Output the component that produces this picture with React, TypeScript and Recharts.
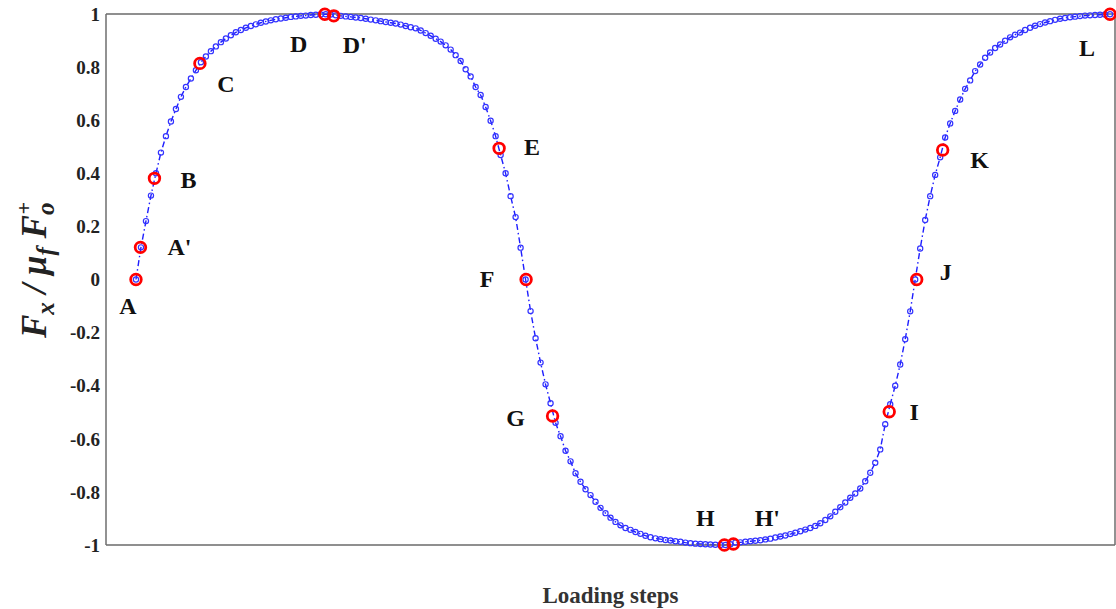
import React from 'react';
import { ComposedChart, Line, Scatter, XAxis, YAxis, CartesianGrid, ReferenceLine, Label } from 'recharts';

// normalised friction force F_x / (mu_f F_o+) at each loading step (step = index)
const FORCE_RATIO: number[] = [
  // A -> D
  0, 0.121, 0.22, 0.316, 0.4, 0.478, 0.54, 0.595, 0.642, 0.688,
  0.725, 0.757, 0.788, 0.818, 0.84, 0.86, 0.878, 0.894, 0.908, 0.92,
  0.931, 0.94, 0.948, 0.955, 0.961, 0.967, 0.972, 0.976, 0.98, 0.983,
  0.986, 0.989, 0.991, 0.993, 0.994, 0.996, 0.997, 0.998, 0.999, 0.998,
  // D' -> H
  0.995, 0.993, 0.991, 0.989, 0.987, 0.985, 0.982, 0.979, 0.976, 0.973,
  0.97, 0.967, 0.964, 0.96, 0.955, 0.95, 0.946, 0.938, 0.928, 0.918,
  0.907, 0.896, 0.882, 0.866, 0.845, 0.823, 0.792, 0.765, 0.725, 0.695,
  0.65, 0.598, 0.54, 0.469, 0.4, 0.314, 0.235, 0.12, 0, -0.119,
  -0.221, -0.313, -0.395, -0.466, -0.54, -0.59, -0.645, -0.685, -0.73, -0.762,
  -0.79, -0.812, -0.837, -0.86, -0.88, -0.897, -0.913, -0.926, -0.936, -0.943,
  -0.951, -0.958, -0.965, -0.971, -0.975, -0.978, -0.981, -0.983, -0.986, -0.988,
  -0.991, -0.993, -0.995, -0.996, -0.997, -0.998, -0.999, -1, -1, -0.997,
  // H' -> L
  -0.991, -0.99, -0.988, -0.986, -0.984, -0.982, -0.979, -0.976, -0.972, -0.968,
  -0.964, -0.959, -0.954, -0.948, -0.942, -0.936, -0.928, -0.918, -0.906, -0.892,
  -0.875, -0.858, -0.84, -0.822, -0.806, -0.787, -0.76, -0.728, -0.69, -0.64,
  -0.545, -0.47, -0.4, -0.32, -0.225, -0.12, 0, 0.117, 0.224, 0.314,
  0.394, 0.46, 0.535, 0.588, 0.635, 0.678, 0.718, 0.75, 0.785, 0.81,
  0.835, 0.855, 0.872, 0.885, 0.899, 0.912, 0.922, 0.93, 0.94, 0.948,
  0.956, 0.962, 0.968, 0.973, 0.978, 0.982, 0.985, 0.988, 0.99, 0.992,
  0.994, 0.995, 0.996, 0.997, 0.998, 0.999,
];

// marked states
const KEY_LABELS = ['A', "A'", 'B', 'C', 'D', "D'", 'E', 'F', 'G', 'H', "H'", 'I', 'J', 'K', 'L'];
const KEY_STEPS = [0, 0.9, 3.7, 12.8, 37.8, 39.6, 72.7, 78.1, 83.4, 117.8, 119.6, 150.8, 156.3, 161.5, 195];
const KEY_VALUES = [0, 0.121, 0.381, 0.814, 0.999, 0.993, 0.494, 0, -0.514, -1, -0.996, -0.498, 0, 0.488, 0.999];

const Y_TICKS = [-1, -0.8, -0.6, -0.4, -0.2, 0, 0.2, 0.4, 0.6, 0.8, 1];

// where each letter sits relative to its red marker (px)
const LABEL_OFFSETS: Record<string, [number, number]> = {
  A: [-8, 26], "A'": [39, 0], B: [34, 2], C: [26, 21], D: [-26, 30], "D'": [21, 29],
  E: [33, -1], F: [-39, -1], G: [-37, 2], H: [-19, -27], "H'": [34, -26],
  I: [25, 0], J: [29, -8], K: [37, 10], L: [-23, 34],
};

const SERIF = '"Liberation Serif", "Times New Roman", serif';
const BLUE = '#1e1eff';
const AXIS_GREY = '#6e6e6e';

const curveData = FORCE_RATIO.map((v, i) => ({ step: i, ratio: v }));
const keyData = KEY_LABELS.map((name, i) => ({ name, step: KEY_STEPS[i], ratio: KEY_VALUES[i] }));

const BlueDot = (props: any) => {
  const { cx, cy } = props;
  if (cx == null || cy == null) return null;
  return <circle cx={cx} cy={cy} r={2.6} fill="none" stroke="#3333ff" strokeWidth={1.2} />;
};

const KeyPoint = (props: any) => {
  const { cx, cy, payload } = props;
  const [dx, dy] = LABEL_OFFSETS[payload.name] || [0, 0];
  return (
    <g>
      <circle cx={cx} cy={cy} r={5.3} fill="none" stroke="#ff0000" strokeWidth={2.8} />
      <text
        x={cx + dx}
        y={cy + dy}
        textAnchor="middle"
        dominantBaseline="central"
        fontFamily={SERIF}
        fontWeight="bold"
        fontSize={24}
        fill="#111"
      >
        {payload.name}
      </text>
    </g>
  );
};

const YTitle = () => (
  <text
    transform="translate(46, 270) rotate(-90)"
    textAnchor="middle"
    fontFamily={SERIF}
    fontWeight="bold"
    fontStyle="italic"
    fontSize={35}
    fill="#222"
  >
    <tspan>F</tspan>
    <tspan dy={8} fontSize={25}>x</tspan>
    <tspan dy={-8}>{' / '}</tspan>
    <tspan>μ</tspan>
    <tspan dy={8} fontSize={25}>f</tspan>
    <tspan dy={-8}>{' F'}</tspan>
    <tspan dy={8} fontSize={25}>o</tspan>
    <tspan dx={-12} dy={-23} fontSize={22}>+</tspan>
  </text>
);

export default function App() {
  return (
    <div style={{ width: 1116, height: 609, background: '#fff' }}>
      <style>{`body{margin:0}`}</style>
      <ComposedChart width={1116} height={609} data={curveData} margin={{ top: 14, right: 1, bottom: 0, left: 0 }}>
        <CartesianGrid vertical={false} stroke="#e3e3e3" strokeWidth={1.2} />
        <XAxis
          type="number"
          dataKey="step"
          domain={[-6, 196]}
          ticks={[]}
          tick={false}
          tickLine={false}
          height={64}
          stroke={AXIS_GREY}
          strokeWidth={1.5}
        >
          <Label
            value="Loading steps"
            position="insideBottom"
            offset={6}
            style={{ fontFamily: SERIF, fontWeight: 'bold', fontSize: 23, fill: '#333' }}
          />
        </XAxis>
        <YAxis
          yAxisId="y"
          domain={[-1, 1]}
          ticks={Y_TICKS}
          interval={0}
          width={106}
          tickLine={false}
          tickSize={4}
          tickMargin={2}
          stroke={AXIS_GREY}
          strokeWidth={1.5}
          tick={{ fontFamily: SERIF, fontWeight: 'bold', fontSize: 19, fill: '#222' }}
        />
        <YAxis
          yAxisId="yin"
          domain={[-1, 1]}
          ticks={Y_TICKS}
          interval={0}
          mirror
          axisLine={false}
          tickSize={5}
          stroke={AXIS_GREY}
          tickFormatter={() => ''}
        />
        <YAxis
          yAxisId="yr"
          orientation="right"
          domain={[-1, 1]}
          ticks={Y_TICKS}
          interval={0}
          mirror
          tickSize={5}
          stroke={AXIS_GREY}
          strokeWidth={1.5}
          tickFormatter={() => ''}
        />
        <ReferenceLine yAxisId="y" y={1} stroke={AXIS_GREY} strokeWidth={1.5} />
        <Line
          yAxisId="y"
          type="linear"
          dataKey="ratio"
          stroke={BLUE}
          strokeWidth={1.4}
          strokeDasharray="6 3 1.5 3"
          dot={<BlueDot />}
          activeDot={false}
          isAnimationActive={false}
        />
        <Scatter
          yAxisId="y"
          data={keyData}
          dataKey="ratio"
          shape={<KeyPoint />}
          isAnimationActive={false}
        />
        <YTitle />
      </ComposedChart>
    </div>
  );
}
